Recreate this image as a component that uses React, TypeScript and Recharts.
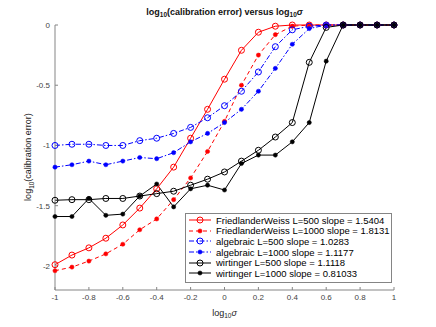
import React from 'react';
import { LineChart, Line, XAxis, YAxis } from 'recharts';

// log10(sigma) sample points
const logSigma = [-1, -0.9, -0.8, -0.7, -0.6, -0.5, -0.4, -0.3, -0.2, -0.1, 0, 0.1, 0.2, 0.3, 0.4, 0.5, 0.6, 0.7, 0.8, 0.9, 1];

const fw500 = [-1.99, -1.91, -1.85, -1.77, -1.66, -1.52, -1.36, -1.18, -0.94, -0.7, -0.45, -0.21, -0.06, -0.01, 0, 0, 0, 0, 0, 0, 0];
const fw1000 = [-2.04, -2.01, -1.96, -1.9, -1.82, -1.7, -1.61, -1.45, -1.27, -1.05, -0.8, -0.5, -0.25, -0.08, -0.01, 0, 0, 0, 0, 0, 0];
const alg500 = [-1.0, -0.99, -0.99, -1.0, -1.0, -0.96, -0.94, -0.9, -0.85, -0.77, -0.67, -0.55, -0.39, -0.18, -0.04, -0.01, 0, 0, 0, 0, 0];
const alg1000 = [-1.18, -1.16, -1.13, -1.16, -1.13, -1.1, -1.11, -1.06, -0.97, -0.9, -0.81, -0.7, -0.55, -0.36, -0.16, -0.03, 0, 0, 0, 0, 0];
const wir500 = [-1.455, -1.45, -1.45, -1.44, -1.44, -1.42, -1.4, -1.38, -1.33, -1.28, -1.22, -1.13, -1.04, -0.93, -0.81, -0.31, -0.02, 0, 0, 0, 0];
const wir1000 = [-1.59, -1.59, -1.44, -1.58, -1.57, -1.42, -1.32, -1.51, -1.36, -1.33, -1.37, -1.15, -1.08, -1.08, -0.97, -0.81, -0.3, 0, 0, 0, 0];

const xTicks = [-1, -0.8, -0.6, -0.4, -0.2, 0, 0.2, 0.4, 0.6, 0.8, 1];
const yTicks = [-2, -1.5, -1, -0.5, 0];

const series = [
  { key: 'fw500', name: 'FriedlanderWeiss L=500 slope = 1.5404', values: fw500, color: '#ff0000', dash: undefined, open: true },
  { key: 'fw1000', name: 'FriedlanderWeiss L=1000 slope = 1.8131', values: fw1000, color: '#ff0000', dash: '4 3', open: false },
  { key: 'alg500', name: 'algebraic L=500 slope = 1.0283', values: alg500, color: '#0000ff', dash: '5 2 1.5 2', open: true },
  { key: 'alg1000', name: 'algebraic L=1000 slope = 1.1177', values: alg1000, color: '#0000ff', dash: '5 2 1.5 2', open: false },
  { key: 'wir500', name: 'wirtinger L=500 slope = 1.1118', values: wir500, color: '#000000', dash: undefined, open: true },
  { key: 'wir1000', name: 'wirtinger L=1000 slope = 0.81033', values: wir1000, color: '#000000', dash: undefined, open: false },
];

const data = logSigma.map((x, i) => {
  const row: any = { x };
  series.forEach((s) => (row[s.key] = s.values[i]));
  return row;
});

const font = '"Liberation Sans", Arial, sans-serif';
const axisColor = '#858585';
const tickStyle = { fontSize: 8, fill: '#444', fontFamily: font };

const Marker = ({ cx, cy, color, open }: any) =>
  open ? (
    <circle cx={cx} cy={cy} r={3} fill="none" stroke={color} strokeWidth={1} />
  ) : (
    <circle cx={cx} cy={cy} r={2.1} fill={color} stroke={color} strokeWidth={0.5} />
  );

const Sub = ({ children }: any) => (
  <span style={{ fontSize: '0.72em', verticalAlign: '-0.35em' }}>{children}</span>
);

export default function App() {
  return (
    <div style={{ position: 'absolute', left: 0, top: 0, width: 436, height: 327, background: '#fff', fontFamily: font }}>
      <LineChart width={436} height={327} data={data} margin={{ top: 25, right: 42, left: 0, bottom: 0 }}>
        <XAxis
          dataKey="x"
          type="number"
          domain={[-1, 1]}
          ticks={xTicks}
          height={37}
          stroke={axisColor}
          tickSize={-3}
          tickMargin={7}
          tick={tickStyle}
          tickFormatter={(v) => String(v)}
          interval={0}
        />
        <XAxis
          xAxisId="top"
          orientation="top"
          type="number"
          domain={[-1, 1]}
          ticks={xTicks}
          height={0}
          stroke={axisColor}
          tickSize={-3}
          tick={false}
          interval={0}
        />
        <YAxis
          type="number"
          domain={[-2.2, 0]}
          ticks={yTicks}
          width={55}
          stroke={axisColor}
          tickSize={-3}
          tickMargin={8}
          tick={tickStyle}
          tickFormatter={(v) => String(v)}
          interval={0}
        />
        <YAxis
          yAxisId="right"
          orientation="right"
          type="number"
          domain={[-2.2, 0]}
          ticks={yTicks}
          width={0}
          stroke={axisColor}
          tickSize={-3}
          tick={false}
          interval={0}
        />
        {series.map((s) => (
          <Line
            key={s.key}
            dataKey={s.key}
            stroke={s.color}
            strokeWidth={1}
            strokeDasharray={s.dash}
            isAnimationActive={false}
            dot={(p: any) => <Marker key={`${s.key}-${p.index}`} cx={p.cx} cy={p.cy} color={s.color} open={s.open} />}
            activeDot={false}
          />
        ))}
      </LineChart>

      <div style={{ position: 'absolute', left: 55, width: 339, top: 7, textAlign: 'center', fontSize: 9, fontWeight: 'bold', color: '#111', whiteSpace: 'nowrap' }}>
        log<Sub>10</Sub>(calibration error) versus log<Sub>10</Sub><i>σ</i>
      </div>

      <div style={{ position: 'absolute', left: 55, width: 339, top: 308, textAlign: 'center', fontSize: 9, color: '#222', whiteSpace: 'nowrap' }}>
        log<Sub>10</Sub><i>σ</i>
      </div>

      <div style={{ position: 'absolute', left: 29, top: 157, transform: 'translate(-50%, -50%) rotate(-90deg)', fontSize: 9, color: '#222', whiteSpace: 'nowrap' }}>
        log<Sub>10</Sub>(calibration error)
      </div>

      <div style={{ position: 'absolute', left: 185, top: 213, width: 207, height: 70, border: `1px solid ${axisColor}`, background: '#fff', boxSizing: 'border-box', paddingTop: 1 }}>
        {series.map((s) => (
          <div key={s.key} style={{ display: 'flex', alignItems: 'center', height: 10.6, fontSize: 9.5, color: '#000', whiteSpace: 'nowrap' }}>
            <svg width={28} height={10} style={{ marginLeft: 2, flex: 'none' }}>
              <line x1={1} y1={5} x2={23} y2={5} stroke={s.color} strokeWidth={1} strokeDasharray={s.dash} />
              <Marker cx={12} cy={5} color={s.color} open={s.open} />
            </svg>
            <span>{s.name}</span>
          </div>
        ))}
      </div>
    </div>
  );
}
